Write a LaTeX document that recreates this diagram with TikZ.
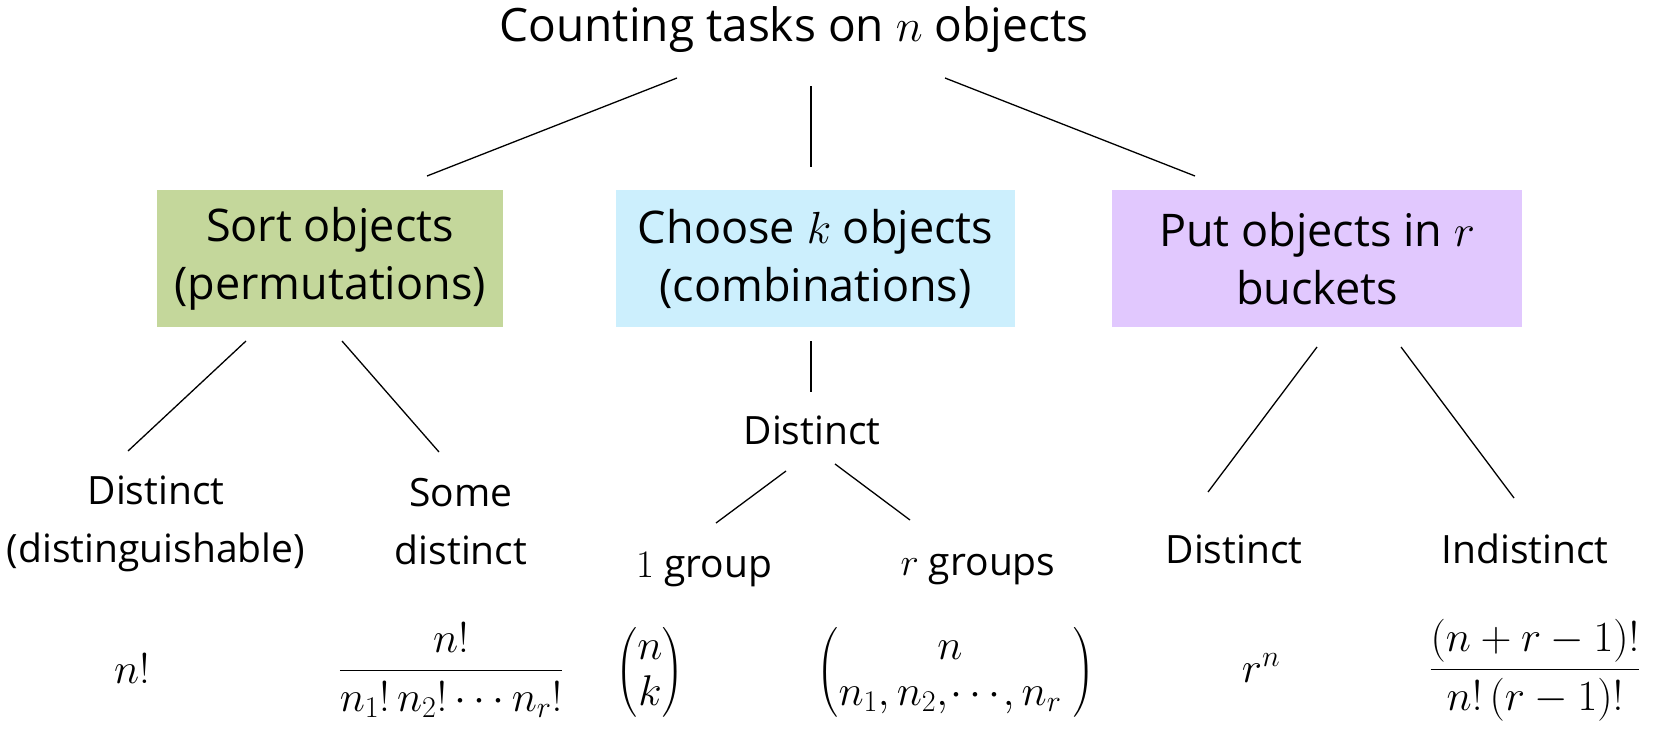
\RequirePackage{fix-cm}
\documentclass[tikz,border=0pt]{standalone}
\usepackage{amsmath}
\usepackage{fontspec}
\setmainfont{Open Sans}
\tikzset{
  conn/.style={line width=1.3pt, black},
  box/.style={rectangle, inner sep=0pt, minimum height=137pt, align=center,
    font=\fontsize{45}{58}\selectfont},
  lbl/.style={inner sep=0pt, align=center, font=\fontsize{39}{58}\selectfont},
  lblone/.style={inner sep=0pt, font=\fontsize{39}{47}\selectfont},
  frm/.style={inner sep=0pt, font=\fontsize{43}{50}\selectfont},
}
\definecolor{cgreen}{HTML}{C4D79B}
\definecolor{cblue}{HTML}{CCEFFD}
\definecolor{cpurple}{HTML}{E1C8FE}
\begin{document}
\begin{tikzpicture}[x=1pt,y=-1pt]
\useasboundingbox (0,0) rectangle (1653,747);
% title
\node[inner sep=0pt, font=\fontsize{46}{58}\selectfont] (title) at (794,30) {Counting tasks on $n$ objects};
% boxes
\node[box, fill=cgreen, minimum width=346pt] (sort) at (330,258.5) {Sort objects\\(permutations)};
\node[box, fill=cblue, minimum width=399pt] (choose) at (815.5,258.5) {Choose $k$ objects\\(combinations)};
\node[box, fill=cpurple, minimum width=410pt] (put) at (1317,258.5) {Put objects in $r$\\buckets};
% labels
\node[lbl] (sdist) at (156,524) {Distinct\\(distinguishable)};
\node[lbl] (ssome) at (461,522) {Some\\distinct};
\node[lblone] (cdist) at (812,430) {Distinct};
\node[lblone] (cone) at (704,570) {$1$ group};
\node[lblone] (cr) at (978,570) {$r$ groups};
\node[lblone] (pdist) at (1234,549) {Distinct};
\node[lblone] (pind) at (1525,549) {Indistinct};
% formulas
\node[frm] (f1) at (132,669) {$n!$};
\node[frm] (f2) at (451,670) {$\dfrac{n!}{n_1!\,n_2!\cdots n_r!}$};
\node[frm] (f3) at (650,672) {$\delimiterfactor=800 \delimitershortfall=20pt
  \displaystyle\left(\begin{array}{@{}c@{}}n\\[-4pt]k\end{array}\right)$};
\node[frm] (f4) at (956,672) {$\delimiterfactor=800 \delimitershortfall=20pt
  \displaystyle\left(\begin{array}{@{}c@{}}n\\[-4pt]n_1,n_2,\mkern-2mu\cdots\mkern-2mu,n_r\end{array}\;\right)$};
\node[frm] (f5) at (1261,668) {$r^n$};
\node[frm] (f6) at (1535,670) {$\dfrac{(n+r-1)!}{n!\,(r-1)!}$};
% connector end points
\coordinate (a1) at (677,78);  \coordinate (a2) at (427,176);
\coordinate (b1) at (811,86);  \coordinate (b2) at (811,167);
\coordinate (c1) at (945,78);  \coordinate (c2) at (1195,176);
\coordinate (d1) at (246,341); \coordinate (d2) at (128,451);
\coordinate (e1) at (342,341); \coordinate (e2) at (439,452);
\coordinate (g1) at (811,341); \coordinate (g2) at (811,392);
\coordinate (h1) at (786,471); \coordinate (h2) at (716,523);
\coordinate (i1) at (835,464); \coordinate (i2) at (910,520);
\coordinate (j1) at (1317,347); \coordinate (j2) at (1208,492);
\coordinate (k1) at (1401,347); \coordinate (k2) at (1514,498);
\draw[conn] (a1) -- (a2);
\draw[conn] (b1) -- (b2);
\draw[conn] (c1) -- (c2);
\draw[conn] (d1) -- (d2);
\draw[conn] (e1) -- (e2);
\draw[conn] (g1) -- (g2);
\draw[conn] (h1) -- (h2);
\draw[conn] (i1) -- (i2);
\draw[conn] (j1) -- (j2);
\draw[conn] (k1) -- (k2);
\end{tikzpicture}
\end{document}
